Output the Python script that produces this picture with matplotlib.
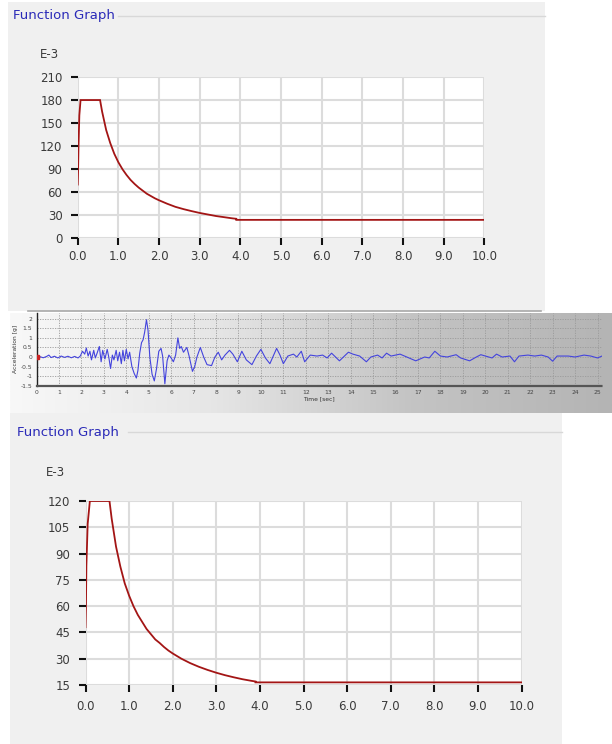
import numpy as np
import matplotlib
matplotlib.use("Agg")
import matplotlib.pyplot as plt
from matplotlib.patches import Rectangle
from matplotlib.lines import Line2D
from matplotlib.colors import LinearSegmentedColormap

# ---------------- data ----------------
# Top spectrum (values in E-3)
top_period = [0.0, 0.01, 0.02, 0.04, 0.07, 0.55, 0.6, 0.7, 0.8, 0.9, 1.0, 1.1, 1.2, 1.3, 1.4,
              1.5, 1.6, 1.7, 1.8, 1.9, 2.0, 2.2, 2.4, 2.6, 2.8, 3.0, 3.2, 3.4, 3.6, 3.8,
              3.9, 3.9, 10.0]
top_value = [70, 90, 120, 160, 180, 180, 165, 141, 124, 110, 99, 90, 82.5, 76, 70.7,
             66, 62, 58, 55, 52, 49.5, 45, 41, 38, 35.4, 33, 31, 29, 27.5, 26,
             25.4, 24, 24]
top_yticks = [0, 30, 60, 90, 120, 150, 180, 210]

# Bottom spectrum (values in E-3)
bot_period = [0.0, 0.01, 0.02, 0.05, 0.1, 0.55, 0.6, 0.7, 0.8, 0.9, 1.0, 1.1, 1.2, 1.3, 1.4,
              1.5, 1.6, 1.7, 1.8, 1.9, 2.0, 2.2, 2.4, 2.6, 2.8, 3.0, 3.2, 3.4, 3.6, 3.8,
              3.9, 3.9, 10.0]
bot_value = [48, 60, 83, 107, 120, 120, 110, 94, 82.5, 73, 66, 60, 55, 51, 47,
             44, 41, 39, 36.7, 34.7, 33, 30, 27.5, 25.4, 23.6, 22, 20.6, 19.4, 18.3, 17.4,
             17, 16.5, 16.5]
bot_yticks = [15, 30, 45, 60, 75, 90, 105, 120]

x_ticks = [0, 1, 2, 3, 4, 5, 6, 7, 8, 9, 10]
x_labels = ["0.0", "1.0", "2.0", "3.0", "4.0", "5.0", "6.0", "7.0", "8.0", "9.0", "10.0"]

# Accelerogram (time [sec], acceleration [g])
acc_time = [0.0, 0.15, 0.3, 0.45, 0.55, 0.65, 0.8, 0.95, 1.1, 1.25, 1.4, 1.55, 1.7, 1.85, 1.95,
            2.05, 2.15, 2.22, 2.3, 2.38, 2.45, 2.55, 2.62, 2.7, 2.8, 2.88, 2.95, 3.05, 3.15, 3.22,
            3.3, 3.38, 3.45, 3.55, 3.62, 3.7, 3.78, 3.85, 3.92, 4.0, 4.08, 4.15, 4.25, 4.35, 4.45,
            4.52, 4.6, 4.68, 4.75, 4.82, 4.9, 4.97, 5.05, 5.15, 5.25, 5.35, 5.45, 5.55, 5.62, 5.72,
            5.82, 5.9, 6.0, 6.1, 6.2, 6.3, 6.38, 6.45, 6.55, 6.7, 6.8, 6.95, 7.05, 7.15, 7.3,
            7.45, 7.6, 7.8, 7.95, 8.1, 8.25, 8.4, 8.6, 8.75, 8.95, 9.15, 9.35, 9.6, 9.8, 10.0,
            10.2, 10.4, 10.55, 10.7, 10.85, 11.0, 11.2, 11.45, 11.6, 11.8, 11.95, 12.2, 12.5, 12.75,
            12.95, 13.15, 13.5, 13.9, 14.1, 14.4, 14.7, 14.9, 15.2, 15.4, 15.6, 15.8, 16.2, 16.5,
            16.9, 17.3, 17.5, 17.75, 18.0, 18.3, 18.7, 18.9, 19.3, 19.6, 19.8, 20.3, 20.5, 20.75,
            21.1, 21.3, 21.5, 21.9, 22.2, 22.5, 22.8, 23.0, 23.2, 23.7, 24.0, 24.4, 24.7, 25.0, 25.2]
acc_value = [0.0, 0.02, -0.04, 0.03, 0.1, -0.03, 0.04, -0.05, 0.05, -0.02, 0.04, -0.04, 0.03, -0.05, 0.05,
             0.3, 0.15, 0.47, 0.05, 0.3, -0.15, 0.35, -0.05, 0.2, 0.55, -0.25, 0.35, -0.1, 0.4, 0.0,
             -0.6, 0.1, -0.15, 0.35, -0.2, 0.25, -0.35, 0.35, -0.2, 0.4, -0.1, 0.25, -0.5, -0.85, -1.1,
             -0.7, 0.2, 0.75, 0.9, 1.3, 1.95, 1.4, 0.0, -0.9, -1.25, -0.6, 0.3, 0.45, 0.05, -1.4,
             -0.2, 0.1, -0.05, -0.25, 0.1, 1.0, 0.45, 0.55, 0.25, 0.5, 0.05, -0.75, -0.5, 0.0, 0.5,
             0.0, -0.4, -0.45, 0.0, 0.25, -0.15, 0.1, 0.35, 0.15, -0.25, 0.3, -0.15, -0.4, 0.05, 0.4,
             -0.05, -0.35, 0.05, 0.45, 0.1, -0.35, 0.05, 0.15, 0.0, 0.3, -0.25, 0.1, 0.05, 0.1,
             -0.05, 0.2, -0.2, 0.25, 0.15, 0.05, -0.25, 0.0, 0.1, -0.05, 0.2, 0.05, 0.15, 0.0,
             -0.2, 0.0, -0.05, 0.3, 0.05, 0.0, 0.12, -0.05, -0.2, 0.0, 0.12, -0.05, 0.15, 0.0,
             0.05, -0.25, 0.05, 0.1, 0.05, 0.1, 0.0, -0.22, 0.05, 0.05, 0.0, 0.1, 0.05, -0.05, 0.05]
acc_xticks = list(range(0, 26))
acc_yticks = [-1.5, -1, -0.5, 0, 0.5, 1, 1.5, 2]
acc_ylabels = ["-1.5", "-1", "-0.5", "0", "0.5", "1", "1.5", "2"]

# ---------------- layout ----------------
W, H = 612, 744
fig = plt.figure(figsize=(W / 100, H / 100), dpi=100)
fig.patch.set_facecolor("white")


def frect(x0, y0, x1, y1):
    return [x0 / W, 1 - y1 / H, (x1 - x0) / W, (y1 - y0) / H]


def bg(x0, y0, x1, y1, color):
    fig.add_artist(Rectangle((x0 / W, 1 - y1 / H), (x1 - x0) / W, (y1 - y0) / H,
                             transform=fig.transFigure, facecolor=color,
                             edgecolor="none", zorder=-10))


def hline(x0, x1, y, color, lw=1.0):
    fig.add_artist(Line2D([x0 / W, x1 / W], [1 - y / H, 1 - y / H],
                          transform=fig.transFigure, color=color, lw=lw, zorder=-5))


def ftext(x, y, s, **kw):
    fig.text(x / W, 1 - y / H, s, **kw)


# panel backgrounds
bg(8, 2, 545, 311, "#f0f0f0")
bg(10, 413, 562, 744, "#f0f0f0")

TITLE_COLOR = "#2a2ab8"
TICK_COLOR = "#3a3a3a"
LINE_COLOR = "#a31515"

# group titles
ftext(13, 16, "Function Graph", fontsize=9.5, color=TITLE_COLOR, va="center", ha="left")
hline(118, 545, 16, "#d8d8d8", 1.0)
ftext(17, 432, "Function Graph", fontsize=9.5, color=TITLE_COLOR, va="center", ha="left")
hline(128, 562, 432, "#d8d8d8", 1.0)
ftext(49, 55, "E-3", fontsize=8.5, color=TICK_COLOR, va="center", ha="center")
ftext(55, 473, "E-3", fontsize=8.5, color=TICK_COLOR, va="center", ha="center")


def spectrum_axes(rect, xs, ys, yticks, ylim, xpad):
    ax = fig.add_axes(rect)
    ax.set_facecolor("white")
    ax.plot(xs, ys, color=LINE_COLOR, lw=1.3, zorder=3, solid_joinstyle="miter")
    ax.set_xlim(0, 10)
    ax.set_ylim(*ylim)
    ax.set_xticks(x_ticks)
    ax.set_xticklabels(x_labels)
    ax.set_yticks(yticks)
    ax.set_yticklabels([str(v) for v in yticks])
    ax.grid(True, color="#dcdcdc", lw=1.5)
    ax.set_axisbelow(True)
    for s in ax.spines.values():
        s.set_visible(False)
    ax.tick_params(axis="both", colors="#111111", labelcolor=TICK_COLOR,
                   labelsize=8.5, length=5, width=1.5, direction="out")
    ax.tick_params(axis="x", pad=xpad)
    ax.tick_params(axis="y", pad=6)
    return ax


spectrum_axes(frect(77.7, 77, 484.4, 238.3), top_period, top_value, top_yticks, (0, 210), 3.5)
spectrum_axes(frect(85.5, 501, 521.5, 685), bot_period, bot_value, bot_yticks, (15, 120), 5.5)

# ---------------- accelerogram strip ----------------
hline(28, 541, 311, "#a8a8a8", 1.2)
gax = fig.add_axes(frect(10, 313, 612, 413), zorder=-8)
grad = np.linspace(0, 1, 256)[None, :]
cmap = LinearSegmentedColormap.from_list("g", ["#f8f8f8", "#e6e6e6", "#c4c4c4", "#b4b4b4"])
gax.imshow(grad, aspect="auto", cmap=cmap, extent=[0, 1, 0, 1])
gax.set_axis_off()

ax3 = fig.add_axes(frect(36.5, 313, 602, 385.7))
ax3.set_facecolor("none")
ax3.plot(acc_time, acc_value, color="#4444dd", lw=0.8, zorder=3)
ax3.plot([0], [0], marker="s", ms=2.5, color="#cc2222", zorder=4)
ax3.set_xlim(0, 25.2)
ax3.set_ylim(-1.5, 2.3)
ax3.set_xticks(acc_xticks)
ax3.set_yticks(acc_yticks)
ax3.set_yticklabels(acc_ylabels)
ax3.grid(True, color="#9a9a9a", lw=0.6, linestyle=(0, (1.5, 1.5)))
for name, s in ax3.spines.items():
    s.set_visible(name in ("left", "bottom"))
ax3.spines["left"].set_color("#222222")
ax3.spines["left"].set_linewidth(1.0)
ax3.spines["bottom"].set_color("#555555")
ax3.spines["bottom"].set_linewidth(1.6)
ax3.spines["bottom"].set_linestyle((0, (1.5, 1)))
ax3.tick_params(axis="both", labelsize=4.3, colors="#444444", length=0, pad=3)
ax3.set_xlabel("Time [sec]", fontsize=4.3, color="#333333", labelpad=1)
ax3.set_ylabel("Acceleration [g]", fontsize=4.3, color="#333333", labelpad=2)

fig.savefig("out.png", dpi=100)
